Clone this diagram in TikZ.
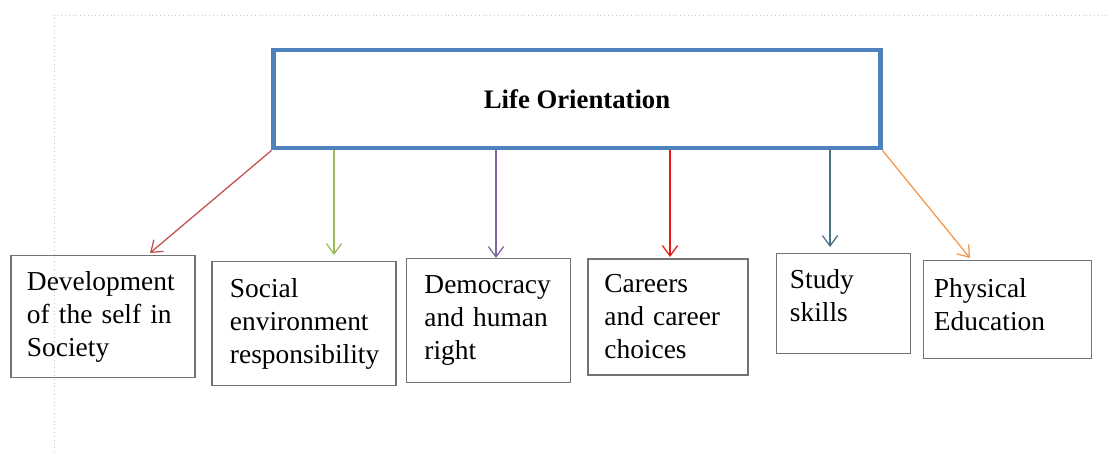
\documentclass[tikz,border=0pt]{standalone}
\usepackage{fontspec}
\setmainfont{Liberation Serif}
\usetikzlibrary{arrows.meta,positioning,calc}

\definecolor{loBlue}{HTML}{4F81BD}
\definecolor{loRedA}{HTML}{C0504D}
\definecolor{loGreen}{HTML}{9BBB59}
\definecolor{loPurple}{HTML}{8064A2}
\definecolor{loRedB}{HTML}{E51A1A}
\definecolor{loTeal}{HTML}{4A7088}
\definecolor{loOrange}{HTML}{F79646}

\tikzset{
  topic/.style={draw=black!55, line width=0.8pt, align=left, inner sep=0pt,
    font=\fontsize{19.5pt}{23.5pt}\selectfont},
  link/.style={line width=0.9pt, -{Straight Barb[length=2.6mm,width=3.8mm]}},
}

\begin{document}
\begin{tikzpicture}[x=0.025cm, y=-0.025cm]
\useasboundingbox (0,0) rectangle (1108,452);
% page edge
\draw[black!22, dotted, line width=0.7pt] (54,452) -- (54,15) -- (1108,15);

% heading box
\node[draw=loBlue, line width=3.5pt, minimum width=15.15cm, minimum height=2.45cm,
  font=\fontsize{19pt}{22pt}\selectfont\bfseries] (lo) at (577,99) {Life Orientation};

% topic boxes
\node[topic, minimum width=4.6cm, minimum height=3.03cm, text width=3.8cm] (dev) at (103,316.5)
  {Development\\\makebox[3.8cm][s]{of the self in}\\Society};
\node[topic, minimum width=4.6cm, minimum height=3.08cm, text width=3.7cm] (soc) at (304,323.5)
  {Social\\environment\\responsibility};
\node[topic, minimum width=4.08cm, minimum height=3.08cm, text width=3.2cm] (dem) at (488.5,320.5)
  {Democracy\\\makebox[3.2cm][s]{and human}\\right};
\node[topic, minimum width=4.0cm, minimum height=2.9cm, text width=3.18cm] (car) at (668,317)
  {Careers\\\makebox[3.18cm][s]{and career}\\choices};
\node[topic, minimum width=3.33cm, minimum height=2.48cm, text width=2.68cm] (stu) at (843.5,303.5)
  {Study\\skills\\[-0.43cm]\mbox{}};
\node[topic, minimum width=4.18cm, minimum height=2.43cm, text width=3.68cm] (phy) at (1007.5,309.5)
  {Physical\\Education\\[-0.58cm]\mbox{}};

% arrow ends
\coordinate (tdev) at (150,253);
\coordinate (tsoc) at (334,255);
\coordinate (tdem) at (496,258);
\coordinate (tcar) at (670,257);
\coordinate (tstu) at (830,247);
\coordinate (tphy) at (970,258);

\draw[link, loRedA] (lo.south west) -- (tdev);
\draw[link, loGreen] (lo.south -| tsoc) -- (tsoc);
\draw[link, loPurple] (lo.south -| tdem) -- (tdem);
\draw[link, loRedB] (lo.south -| tcar) -- (tcar);
\draw[link, loTeal] (lo.south -| tstu) -- (tstu);
\draw[link, loOrange] (lo.south east) -- (tphy);
\end{tikzpicture}
\end{document}
